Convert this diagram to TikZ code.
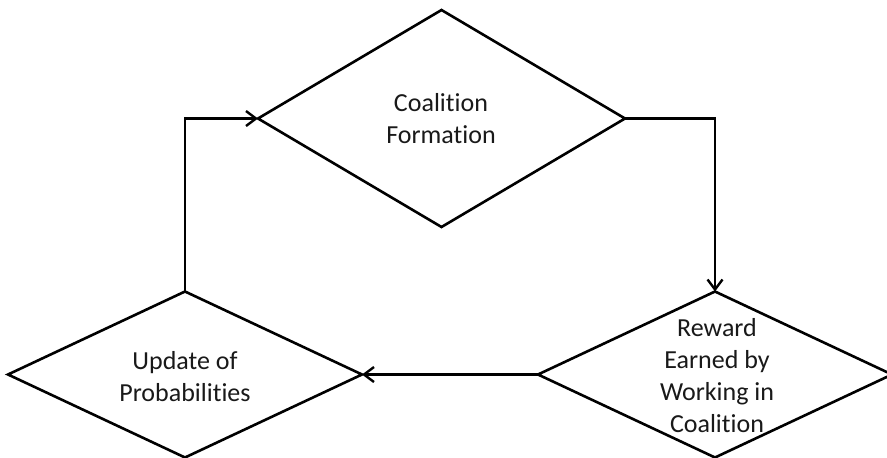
\documentclass[tikz,border=0pt]{standalone}
\usepackage{fontspec}
\setmainfont{Carlito}[Ligatures={NoCommon,NoRequired,NoContextual}]
\usetikzlibrary{shapes.geometric,arrows.meta}

\tikzset{
  decision/.style={diamond, draw=black, line width=2.6pt, inner sep=0pt,
    outer sep=0pt, fill=white},
  caption/.style={align=center, inner sep=0pt, text=black!90,
    font=\fontsize{26}{32}\selectfont},
  conn/.style={line width=2.6pt, draw=black,
    -{Straight Barb[length=10pt,width=15pt,line width=2.4pt]}},
}

\begin{document}
\begin{tikzpicture}[x=1pt,y=-1pt]
  \useasboundingbox (0,0) rectangle (887,458);

  % the three stages of the cycle
  \node[decision, minimum width=367pt, minimum height=217pt] (cf) at (441.5,118.5) {};
  \node[decision, minimum width=354pt, minimum height=166pt] (rw) at (715,374.5) {};
  \node[decision, minimum width=354pt, minimum height=166pt] (up) at (185,374.5) {};

  \node[caption] (cft) at (441,119) {Coalition\\Formation};
  \node[caption] (rwt) at (717,376) {Reward\\Earned by\\Working in\\Coalition};
  \node[caption] (upt) at (185,377) {Update of\\Probabilities};

  % flow between the stages
  \draw[conn] (cf.east) -| (rw.north);
  \draw[conn] (rw.west) -- (up.east);
  \draw[conn] (up.north) |- (cf.west);
\end{tikzpicture}
\end{document}
